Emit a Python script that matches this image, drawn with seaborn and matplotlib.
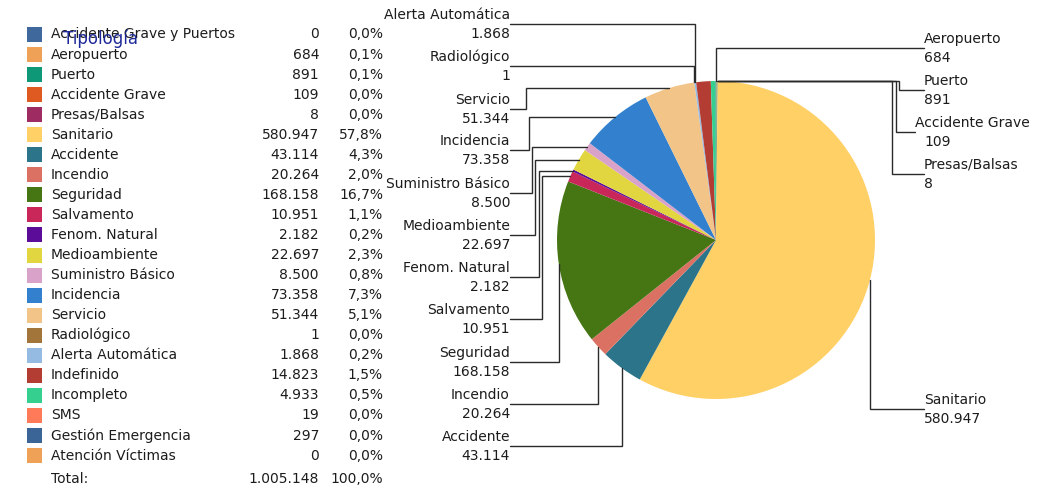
import numpy as np
import matplotlib
matplotlib.use("Agg")
import matplotlib.pyplot as plt
import seaborn as sns

categories = [
    "Accidente Grave y Puertos", "Aeropuerto", "Puerto", "Accidente Grave",
    "Presas/Balsas", "Sanitario", "Accidente", "Incendio", "Seguridad",
    "Salvamento", "Fenom. Natural", "Medioambiente", "Suministro Básico",
    "Incidencia", "Servicio", "Radiológico", "Alerta Automática", "Indefinido",
    "Incompleto", "SMS", "Gestión Emergencia", "Atención Víctimas",
]
values = [
    0, 684, 891, 109, 8, 580947, 43114, 20264, 168158, 10951, 2182, 22697,
    8500, 73358, 51344, 1, 1868, 14823, 4933, 19, 297, 0,
]
colors = [
    "#3F689C", "#EFA257", "#0E9877", "#DE5A21", "#9E2C62", "#FFD066",
    "#2B7489", "#DB7163", "#467514", "#C9275A", "#5B0C99", "#E2D640",
    "#D9A3C9", "#3381CE", "#F2C487", "#A2763A", "#96BBE3", "#B43D33",
    "#35D08F", "#FF7A58", "#3C6597", "#EFA257",
]

# pie callouts: category -> (side, label y in px from top, elbow x or None)
callouts = {
    "Alerta Automática": ("left", 15, None),
    "Radiológico": ("left", 57, None),
    "Servicio": ("left", 100, 526),
    "Incidencia": ("left", 141, 529),
    "Suministro Básico": ("left", 184, 532),
    "Medioambiente": ("left", 226, 535),
    "Fenom. Natural": ("left", 268, 539),
    "Salvamento": ("left", 310, 542),
    "Seguridad": ("left", 353, None),
    "Incendio": ("left", 395, None),
    "Accidente": ("left", 437, None),
    "Aeropuerto": ("right", 39, None),
    "Puerto": ("right", 81, 899),
    "Accidente Grave": ("right", 123, 896),
    "Presas/Balsas": ("right", 165, 892),
    "Sanitario": ("right", 400, None),
}

sns.set_theme(style="white")
plt.rcParams["font.family"] = ["DejaVu Sans"]

W, H = 1051, 490
CX, CY, R = 716, 240, 159
TXT = "#1c1c1c"
FS = 10


def Y(y):
    return H - y


def fmt_num(v):
    return f"{v:,}".replace(",", ".")


def fmt_pct(v, total):
    return f"{100 * v / total:.1f}".replace(".", ",") + "%"


fig = plt.figure(figsize=(W / 100, H / 100), dpi=100)
ax = fig.add_axes([0, 0, 1, 1])

total = sum(values)
wedges, _ = ax.pie(
    values, colors=colors, startangle=90, counterclock=False,
    center=(CX, Y(CY)), radius=R, wedgeprops={"linewidth": 0},
)
ax.set_xlim(0, W)
ax.set_ylim(0, H)
ax.set_aspect("auto")
ax.axis("off")

# legend table
for i, (name, v, c) in enumerate(zip(categories, values, colors)):
    yc = 34.5 + 20.05 * i
    ax.add_patch(plt.Rectangle((27, Y(yc + 7.5)), 15, 15, color=c, lw=0))
    ax.text(51, Y(yc), name, fontsize=FS, color=TXT, va="center", ha="left")
    ax.text(319, Y(yc), fmt_num(v), fontsize=FS, color=TXT, va="center", ha="right")
    ax.text(383, Y(yc), fmt_pct(v, total), fontsize=FS, color=TXT, va="center", ha="right")
ax.text(51, Y(479), "Total:", fontsize=FS, color=TXT, va="center", ha="left")
ax.text(319, Y(479), fmt_num(total), fontsize=FS, color=TXT, va="center", ha="right")
ax.text(383, Y(479), "100,0%", fontsize=FS, color=TXT, va="center", ha="right")
ax.text(63, Y(39), "Tipología", fontsize=12, color="#1F2A9A", va="center", ha="left")

# callouts with elbow leader lines
cum = np.cumsum([0] + values)
for name, (side, ly, ex) in callouts.items():
    i = categories.index(name)
    mid = (cum[i] + cum[i + 1]) / 2 / total
    ang = np.deg2rad(90 - 360 * mid)
    axp = CX + R * np.cos(ang)
    ayp = Y(CY) + R * np.sin(ang)
    line_y = Y(ly + 9)
    if side == "left":
        tx, ha = 510, "right"
    else:
        tx, ha = (915 if name == "Accidente Grave" else 924), "left"
    if ex is None:
        xs = [tx, axp, axp]
        ys = [line_y, line_y, ayp]
    else:
        xs = [tx, ex, ex, axp]
        ys = [line_y, line_y, ayp, ayp]
    ax.plot(xs, ys, color="#2a2a2a", lw=1, solid_joinstyle="miter")
    ax.text(tx, Y(ly), name, fontsize=FS, color=TXT, va="center", ha=ha)
    ax.text(924 if side == "right" else tx, Y(ly + 19), fmt_num(values[i]),
            fontsize=FS, color=TXT, va="center", ha=ha)

fig.savefig("out.png", dpi=100)
